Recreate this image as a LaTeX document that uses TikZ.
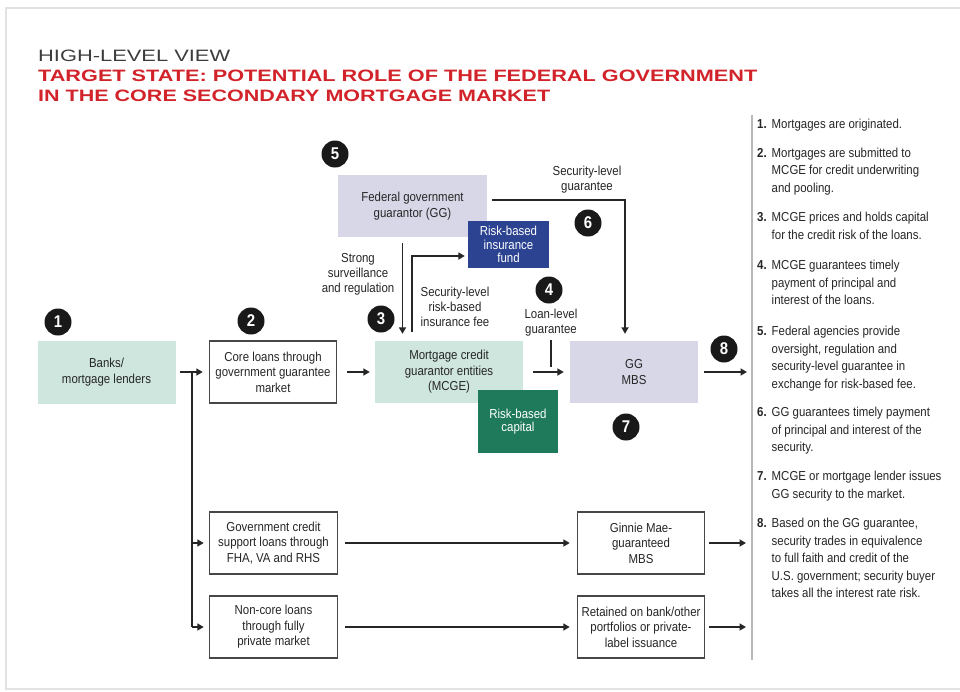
\documentclass[tikz,border=0pt]{standalone}
\usepackage{fontspec}
\setmainfont{Liberation Sans}[FakeStretch=0.88]
\newfontfamily\titlefont{Liberation Sans}
\usepackage{graphicx}
\usetikzlibrary{arrows.meta}

\definecolor{ink}{HTML}{262626}
\definecolor{linecol}{HTML}{262626}
\definecolor{tealfill}{HTML}{CFE6DF}
\definecolor{lavfill}{HTML}{D8D7E8}
\definecolor{capgreen}{HTML}{1E7A5B}
\definecolor{fundblue}{HTML}{2B4391}
\definecolor{titlered}{HTML}{D2232A}
\definecolor{titlegray}{HTML}{3C3C3C}
\definecolor{framegray}{HTML}{E2E2E2}
\definecolor{sepgray}{HTML}{B8B8B8}

\begin{document}
\begin{tikzpicture}[x=1pt,y=-1pt,
  box/.style={rectangle, inner sep=0pt, align=center, text=ink,
    font=\fontsize{13}{15.5}\selectfont},
  plainbox/.style={box, draw=linecol!85, line width=1.5pt, fill=white},
  tealbox/.style={box, fill=tealfill},
  lavbox/.style={box, fill=lavfill},
  darkbox/.style={box, text=white, font=\fontsize{13}{13.5}\selectfont},
  num/.style={circle, fill=black!90, text=white, minimum size=27pt,
    inner sep=0pt, font=\fontsize{17}{17}\selectfont\bfseries},
  arr/.style={draw=linecol, line width=1.9pt,
    -{Triangle[length=6.5pt,width=7pt]}},
  wire/.style={draw=linecol, line width=1.9pt},
  lbl/.style={align=center, text=ink, inner sep=0pt,
    font=\fontsize{13}{15}\selectfont},
  note/.style={inner sep=0pt, text=ink, anchor=base west,
    font=\fontsize{13}{17.5}\selectfont},
  ttl/.style={inner sep=0pt, anchor=base west}
]
\useasboundingbox (0,0) rectangle (960,691);
\fill[white] (0,0) rectangle (960,691);

% outer frame
\draw[framegray, line width=1.2pt] (960,8) -- (6,8) -- (6,689) -- (960,689);

% headings
\node[ttl, text=titlegray] (head) at (38,61)
  {\resizebox{192pt}{11.5pt}{\titlefont HIGH-LEVEL VIEW}};
\node[ttl, text=titlered] (title1) at (38,81)
  {\resizebox{719pt}{11.5pt}{\titlefont\bfseries TARGET STATE: POTENTIAL ROLE OF THE FEDERAL GOVERNMENT}};
\node[ttl, text=titlered] (title2) at (38,101.5)
  {\resizebox{512pt}{11.5pt}{\titlefont\bfseries IN THE CORE SECONDARY MORTGAGE MARKET}};

% main flow boxes
\node[tealbox, minimum width=138pt, minimum height=63pt] (banks) at (106.5,372)
  {Banks/\\mortgage lenders};
\node[plainbox, minimum width=127pt, minimum height=62pt] (core) at (273,372)
  {Core loans through\\government guarantee\\market};
\node[tealbox, minimum width=148pt, minimum height=62pt] (mcge) at (449,372)
  {Mortgage credit\\guarantor entities\\(MCGE)};
\node[darkbox, fill=capgreen, minimum width=80pt, minimum height=63pt] (capital) at (518,421.5)
  {Risk-based\\capital};
\node[lavbox, minimum width=128pt, minimum height=62pt] (ggmbs) at (634,372)
  {GG\\MBS};
\node[lavbox, minimum width=149pt, minimum height=62pt] (gg) at (412.5,206)
  {Federal government\\guarantor (GG)};
\node[darkbox, fill=fundblue, minimum width=81pt, minimum height=47pt] (fund) at (508.5,244.5)
  {Risk-based\\insurance\\fund};

% lower rows
\node[plainbox, minimum width=128pt, minimum height=62pt] (gov) at (273.5,543)
  {Government credit\\support loans through\\FHA, VA and RHS};
\node[plainbox, minimum width=128pt, minimum height=62pt] (noncore) at (273.5,627)
  {Non-core loans\\through fully\\private market};
\node[plainbox, minimum width=127pt, minimum height=62pt] (ginnie) at (641,543)
  {Ginnie Mae-\\guaranteed\\MBS};
\node[plainbox, minimum width=127pt, minimum height=62pt] (retained) at (641,627)
  {Retained on bank/other\\portfolios or private-\\label issuance};

% step markers
\node[num] (s1) at (58,322) {1};
\node[num] (s2) at (251,321) {2};
\node[num] (s3) at (381,319) {3};
\node[num] (s4) at (549,290) {4};
\node[num] (s5) at (335,154) {5};
\node[num] (s6) at (588,223) {6};
\node[num] (s7) at (626,427) {7};
\node[num] (s8) at (724,349) {8};

% connector labels
\node[lbl] (secg) at (587,180) {Security-level\\guarantee};
\node[lbl] (strong) at (358,274) {Strong\\surveillance\\and regulation};
\node[lbl] (fee) at (455,307) {Security-level\\risk-based\\insurance fee};
\node[lbl] (loan) at (551,323) {Loan-level\\guarantee};

% free ends
\coordinate (br) at (192,372);
\coordinate (ll) at (551,367);
\coordinate (out1) at (747,372);
\coordinate (out2) at (746,543);
\coordinate (out3) at (746,627);
\coordinate (sv) at ([shift={(-10pt,-6pt)}]gg.south);

% connectors
\draw[arr, shorten <=4pt, shorten >=6pt] (banks.east) -- (core.west);
\draw[wire] (br) -- (br |- noncore.west);
\draw[arr, shorten >=5pt] (br |- gov.west) -- (gov.west);
\draw[arr, shorten >=5pt] (br |- noncore.west) -- (noncore.west);
\draw[arr, shorten <=10pt, shorten >=5pt] (core.east) -- (mcge.west);
\draw[arr, shorten <=10pt, shorten >=6pt] (mcge.east) -- (ggmbs.west);
\draw[wire] ([yshift=-3pt]loan.south) -- (ll);
\draw[arr, shorten <=6pt] (ggmbs.east) -- (out1);
\draw[arr, shorten <=7pt, shorten >=7pt] (gov.east) -- (ginnie.west);
\draw[arr, shorten <=7pt, shorten >=7pt] (noncore.east) -- (retained.west);
\draw[arr, shorten <=4pt] (ginnie.east) -- (out2);
\draw[arr, shorten <=4pt] (retained.east) -- (out3);
\draw[arr] ([shift={(5pt,6pt)}]gg.east) -| ([shift={(-9pt,7pt)}]ggmbs.north);
\draw[arr, shorten >=7pt] (sv) -- (sv |- mcge.north);
\draw[arr] ([shift={(-37pt,9pt)}]mcge.north) |- ([shift={(-3pt,-11.5pt)}]fund.west);

% side notes
\draw[sepgray, line width=1.2pt] (752,115) -- (752,660);
\node[note] (n1) at (757,128.5) {\begin{tabular}[t]{@{}l@{}l@{}}
  \makebox[14.5pt][l]{\bfseries 1.}&Mortgages are originated.\end{tabular}};
\node[note] (n2) at (757,157) {\begin{tabular}[t]{@{}l@{}l@{}}
  \makebox[14.5pt][l]{\bfseries 2.}&Mortgages are submitted to\\
  &MCGE for credit underwriting\\ &and pooling.\end{tabular}};
\node[note] (n3) at (757,221.5) {\begin{tabular}[t]{@{}l@{}l@{}}
  \makebox[14.5pt][l]{\bfseries 3.}&MCGE prices and holds capital\\
  &for the credit risk of the loans.\end{tabular}};
\node[note] (n4) at (757,269.5) {\begin{tabular}[t]{@{}l@{}l@{}}
  \makebox[14.5pt][l]{\bfseries 4.}&MCGE guarantees timely\\
  &payment of principal and\\ &interest of the loans.\end{tabular}};
\node[note] (n5) at (757,335.5) {\begin{tabular}[t]{@{}l@{}l@{}}
  \makebox[14.5pt][l]{\bfseries 5.}&Federal agencies provide\\
  &oversight, regulation and\\ &security-level guarantee in\\
  &exchange for risk-based fee.\end{tabular}};
\node[note] (n6) at (757,416.5) {\begin{tabular}[t]{@{}l@{}l@{}}
  \makebox[14.5pt][l]{\bfseries 6.}&GG guarantees timely payment\\
  &of principal and interest of the\\ &security.\end{tabular}};
\node[note] (n7) at (757,480.5) {\begin{tabular}[t]{@{}l@{}l@{}}
  \makebox[14.5pt][l]{\bfseries 7.}&MCGE or mortgage lender issues\\
  &GG security to the market.\end{tabular}};
\node[note] (n8) at (757,527.5) {\begin{tabular}[t]{@{}l@{}l@{}}
  \makebox[14.5pt][l]{\bfseries 8.}&Based on the GG guarantee,\\
  &security trades in equivalence\\ &to full faith and credit of the\\
  &U.S. government; security buyer\\ &takes all the interest rate risk.\end{tabular}};
\end{tikzpicture}
\end{document}
